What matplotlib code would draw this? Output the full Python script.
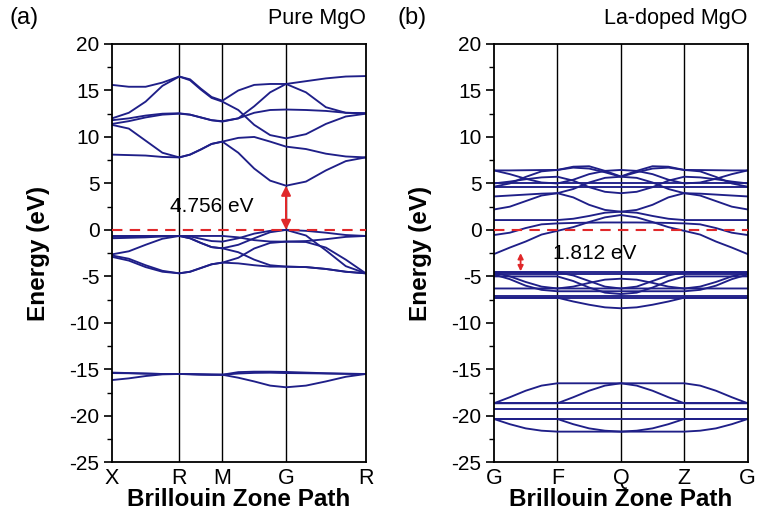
import numpy as np
import matplotlib
matplotlib.use("Agg")
import matplotlib.pyplot as plt
from matplotlib.ticker import MultipleLocator


# =========================
# 1. 数据
# =========================

# (a) Pure MgO: 高对称点位置 (路径归一化) 与标签
k_nodes_a = [0.0, 0.265, 0.435, 0.686, 1.0]
k_labels_a = ["X", "R", "M", "G", "R"]

# 每段取 5 个点 (含两端), 共 17 个能量值
cond_a = [
    [15.6, 15.4, 15.4, 15.85, 16.5, 16.2, 15.2, 14.3, 13.9, 15.0, 15.6, 15.7, 15.7, 16.0, 16.3, 16.5, 16.55],
    [12.0, 12.6, 13.8, 15.5, 16.5, 16.1, 15.1, 14.2, 13.8, 12.9, 11.3, 10.2, 9.85, 10.3, 11.4, 12.2, 12.5],
    [11.8, 12.0, 12.3, 12.5, 12.55, 12.4, 12.1, 11.8, 11.7, 12.0, 13.3, 14.8, 15.7, 14.8, 13.2, 12.6, 12.55],
    [11.4, 11.7, 12.1, 12.4, 12.5, 12.4, 12.1, 11.8, 11.65, 12.0, 12.6, 12.9, 12.95, 12.9, 12.8, 12.6, 12.55],
    [11.3, 10.9, 9.6, 8.3, 7.8, 8.1, 8.65, 9.25, 9.5, 9.9, 10.0, 9.5, 8.96, 8.7, 8.2, 7.9, 7.8],
    [8.1, 8.05, 8.0, 7.85, 7.8, 8.1, 8.65, 9.25, 9.5, 8.3, 6.6, 5.3, 4.756, 5.2, 6.4, 7.4, 7.8],
]

val_a = [
    [-0.65, -0.65, -0.65, -0.65, -0.65, -0.65, -0.65, -0.65, -0.65, -0.8, -1.1, -1.25, -1.26, -1.2, -1.0, -0.75, -0.65],
    [-0.9, -0.85, -0.8, -0.7, -0.65, -0.9, -1.4, -1.85, -1.98, -1.6, -0.9, -0.25, 0.0, -0.1, -0.3, -0.55, -0.65],
    [-2.63, -2.3, -1.6, -0.95, -0.65, -0.7, -0.95, -1.2, -1.26, -0.9, -0.4, -0.1, 0.0, -0.6, -2.2, -3.9, -4.67],
    [-2.75, -3.1, -3.8, -4.4, -4.67, -4.5, -4.1, -3.7, -3.52, -3.0, -2.0, -1.4, -1.26, -1.3, -1.9, -3.2, -4.67],
    [-2.9, -3.3, -4.0, -4.5, -4.67, -4.5, -4.1, -3.7, -3.52, -3.6, -3.8, -3.95, -3.95, -4.0, -4.2, -4.5, -4.67],
    [-0.75, -0.72, -0.7, -0.67, -0.65, -0.9, -1.4, -1.85, -1.98, -2.4, -3.2, -3.8, -3.95, -4.0, -4.2, -4.5, -4.67],
]

low_a = [
    [-15.35, -15.4, -15.45, -15.5, -15.5, -15.52, -15.55, -15.57, -15.58, -15.45, -15.38, -15.36, -15.4, -15.42, -15.45, -15.48, -15.5],
    [-16.15, -15.97, -15.72, -15.54, -15.5, -15.52, -15.55, -15.57, -15.58, -15.9, -16.3, -16.75, -16.93, -16.75, -16.3, -15.8, -15.5],
    [-15.4, -15.42, -15.46, -15.5, -15.5, -15.52, -15.55, -15.57, -15.58, -15.3, -15.25, -15.25, -15.28, -15.35, -15.42, -15.47, -15.5],
]

gap_a = 4.756

# (b) La-doped MgO
k_nodes_b = [0.0, 0.25, 0.5, 0.75, 1.0]
k_labels_b = ["G", "F", "Q", "Z", "G"]

cond_b = [
    [-2.6, -1.9, -1.25, -0.5, -0.1, 0.3, 0.85, 1.35, 1.6, 1.35, 0.85, 0.3, -0.1, -0.5, -1.25, -1.9, -2.6],
    [-0.55, -0.3, 0.2, 0.6, 0.7, 0.75, 0.78, 0.8, 0.8, 0.8, 0.78, 0.75, 0.7, 0.6, 0.2, -0.3, -0.55],
    [1.06, 1.06, 1.06, 1.06, 1.06, 1.2, 1.5, 1.85, 1.96, 1.85, 1.5, 1.2, 1.06, 1.06, 1.06, 1.06, 1.06],
    [3.6, 3.7, 3.8, 3.9, 3.95, 3.5, 2.7, 2.15, 1.96, 2.15, 2.7, 3.5, 3.95, 3.9, 3.8, 3.7, 3.6],
    [2.2, 2.5, 3.1, 3.7, 3.95, 4.4, 5.1, 5.6, 5.72, 5.6, 5.1, 4.4, 3.95, 3.7, 3.1, 2.5, 2.2],
    [5.0, 5.2, 5.45, 5.65, 5.72, 5.3, 4.6, 4.1, 3.95, 4.1, 4.6, 5.3, 5.72, 5.65, 5.45, 5.2, 5.0],
    [5.0, 5.0, 5.0, 5.0, 5.0, 5.0, 5.0, 5.0, 5.0, 5.0, 5.0, 5.0, 5.0, 5.0, 5.0, 5.0, 5.0],
    [4.65, 4.65, 4.65, 4.65, 4.65, 4.65, 4.65, 4.65, 4.65, 4.65, 4.65, 4.65, 4.65, 4.65, 4.65, 4.65, 4.65],
    [6.4, 6.4, 6.42, 6.44, 6.45, 6.8, 6.85, 6.35, 5.75, 6.35, 6.85, 6.8, 6.45, 6.44, 6.42, 6.4, 6.4],
    [6.4, 6.0, 5.5, 5.1, 5.0, 5.4, 6.0, 6.35, 6.45, 6.35, 6.0, 5.4, 5.0, 5.1, 5.5, 6.0, 6.4],
    [4.65, 5.0, 5.7, 6.3, 6.45, 6.7, 6.6, 6.2, 5.72, 6.2, 6.6, 6.7, 6.45, 6.3, 5.7, 5.0, 4.65],
]

val_b = [
    [-4.56, -4.56, -4.56, -4.56, -4.56, -4.56, -4.56, -4.56, -4.56, -4.56, -4.56, -4.56, -4.56, -4.56, -4.56, -4.56, -4.56],
    [-4.74, -4.74, -4.74, -4.74, -4.74, -4.74, -4.74, -4.74, -4.74, -4.74, -4.74, -4.74, -4.74, -4.74, -4.74, -4.74, -4.74],
    [-7.29, -7.29, -7.29, -7.29, -7.29, -7.29, -7.29, -7.29, -7.29, -7.29, -7.29, -7.29, -7.29, -7.29, -7.29, -7.29, -7.29],
    [-7.15, -7.15, -7.15, -7.15, -7.15, -7.15, -7.15, -7.15, -7.15, -7.15, -7.15, -7.15, -7.15, -7.15, -7.15, -7.15, -7.15],
    [-4.6, -5.0, -5.6, -6.1, -6.3, -6.3, -6.3, -6.3, -6.3, -6.3, -6.3, -6.3, -6.3, -6.1, -5.6, -5.0, -4.6],
    [-4.8, -5.3, -6.0, -6.45, -6.6, -6.6, -6.6, -6.6, -6.6, -6.6, -6.6, -6.6, -6.6, -6.45, -6.0, -5.3, -4.8],
    [-4.56, -4.56, -4.56, -4.56, -4.56, -4.9, -5.5, -6.1, -6.3, -6.1, -5.5, -4.9, -4.56, -4.56, -4.56, -4.56, -4.56],
    [-5.0, -5.0, -5.0, -5.0, -5.0, -5.5, -6.2, -6.75, -6.9, -6.75, -6.2, -5.5, -5.0, -5.0, -5.0, -5.0, -5.0],
    [-7.29, -7.29, -7.29, -7.29, -7.29, -7.7, -8.05, -8.33, -8.43, -8.33, -8.05, -7.7, -7.29, -7.29, -7.29, -7.29, -7.29],
    [-6.3, -6.3, -6.3, -6.3, -6.3, -6.1, -5.7, -5.35, -5.25, -5.35, -5.7, -6.1, -6.3, -6.3, -6.3, -6.3, -6.3],
]

low_b = [
    [-18.65, -18.65, -18.65, -18.65, -18.65, -18.65, -18.65, -18.65, -18.65, -18.65, -18.65, -18.65, -18.65, -18.65, -18.65, -18.65, -18.65],
    [-19.26, -19.26, -19.26, -19.26, -19.26, -19.26, -19.26, -19.26, -19.26, -19.26, -19.26, -19.26, -19.26, -19.26, -19.26, -19.26, -19.26],
    [-20.34, -20.34, -20.34, -20.34, -20.34, -20.34, -20.34, -20.34, -20.34, -20.34, -20.34, -20.34, -20.34, -20.34, -20.34, -20.34, -20.34],
    [-18.65, -18.0, -17.3, -16.75, -16.5, -16.5, -16.5, -16.5, -16.5, -16.5, -16.5, -16.5, -16.5, -16.75, -17.3, -18.0, -18.65],
    [-18.65, -18.65, -18.65, -18.65, -18.65, -18.0, -17.3, -16.75, -16.5, -16.75, -17.3, -18.0, -18.65, -18.65, -18.65, -18.65, -18.65],
    [-20.34, -20.9, -21.35, -21.6, -21.7, -21.7, -21.7, -21.7, -21.7, -21.7, -21.7, -21.7, -21.7, -21.6, -21.35, -20.9, -20.34],
    [-20.34, -20.34, -20.34, -20.34, -20.34, -20.9, -21.35, -21.6, -21.7, -21.6, -21.35, -20.9, -20.34, -20.34, -20.34, -20.34, -20.34],
]

gap_b = 1.812
gap_b_top = -2.5
gap_b_bottom = -4.45


# =========================
# 2. 样式
# =========================

plt.rcParams["font.family"] = ["Liberation Sans", "DejaVu Sans"]
plt.rcParams["axes.unicode_minus"] = False

BAND_COLOR = "#1f1f88"
RED = "#e0282a"


def path_grid(nodes, per_seg=4):
    # 每段均匀取点 (x 方向), 能量值来自上面的数组
    points = []
    for k0, k1 in zip(nodes[:-1], nodes[1:]):
        points.extend(np.linspace(k0, k1, per_seg + 1)[:-1])
    points.append(nodes[-1])
    return np.array(points)


def draw_panel(ax, nodes, labels, band_groups):
    k = path_grid(nodes)

    for x in nodes[1:-1]:
        ax.axvline(x, color="black", lw=1.0, zorder=1)

    for group in band_groups:
        for band in group:
            ax.plot(k, band, color=BAND_COLOR, lw=1.35, zorder=2)

    ax.axhline(0, color=RED, lw=1.5, ls=(0, (5, 3.5)), zorder=3)

    ax.set_xlim(nodes[0], nodes[-1])
    ax.set_ylim(-25, 20)
    ax.set_xticks(nodes)
    ax.set_xticklabels(labels)
    ax.yaxis.set_major_locator(MultipleLocator(5))
    ax.yaxis.set_minor_locator(MultipleLocator(2.5))

    ax.tick_params(axis="x", length=0, labelsize=15.5, pad=4)
    ax.tick_params(axis="y", which="major", direction="out", length=6,
                   width=1.2, labelsize=15, pad=3)
    ax.tick_params(axis="y", which="minor", direction="out", length=3.5,
                   width=1.0)

    for spine in ax.spines.values():
        spine.set_linewidth(1.3)

    ax.set_ylabel("Energy (eV)", fontsize=17.5, fontweight="bold")
    ax.yaxis.set_label_coords(-0.245, 0.5)
    ax.set_xlabel("Brillouin Zone Path", fontsize=17.5, fontweight="bold")
    ax.xaxis.set_label_coords(0.5, -0.062)


# =========================
# 3. 画图
# =========================

fig = plt.figure(figsize=(7.63, 5.17), dpi=100)

ax_a = fig.add_axes([0.1468, 0.1058, 0.3325, 0.8091])
ax_b = fig.add_axes([0.6474, 0.1058, 0.3325, 0.8091])

draw_panel(ax_a, k_nodes_a, k_labels_a, [cond_a, val_a, low_a])
draw_panel(ax_b, k_nodes_b, k_labels_b, [cond_b, val_b, low_b])

# 带隙箭头 (a)
ax_a.annotate("", xy=(k_nodes_a[3], gap_a), xytext=(k_nodes_a[3], 0),
              arrowprops=dict(arrowstyle="<|-|>", color=RED, lw=1.5,
                              mutation_scale=14, shrinkA=0, shrinkB=0),
              zorder=4)
ax_a.text(0.393, 2.5, f"{gap_a:.3f} eV", fontsize=15,
          ha="center", va="center")

# 带隙箭头 (b)
ax_b.annotate("", xy=(0.105, gap_b_top), xytext=(0.105, gap_b_bottom),
              arrowprops=dict(arrowstyle="<|-|>", color=RED, lw=1.3,
                              mutation_scale=8, shrinkA=0, shrinkB=0),
              zorder=4)
ax_b.text(0.398, -2.52, f"{gap_b:.3f} eV", fontsize=15,
          ha="center", va="center")

# 面板标签和标题
fig.text(0.013, 0.965, "(a)", fontsize=17, ha="left", va="center")
fig.text(0.5216, 0.965, "(b)", fontsize=17, ha="left", va="center")
fig.text(0.4793, 0.965, "Pure MgO", fontsize=15.5, ha="right", va="center")
fig.text(0.98, 0.965, "La-doped MgO", fontsize=15.5, ha="right", va="center")

fig.savefig("out.png", dpi=100)
plt.close(fig)
